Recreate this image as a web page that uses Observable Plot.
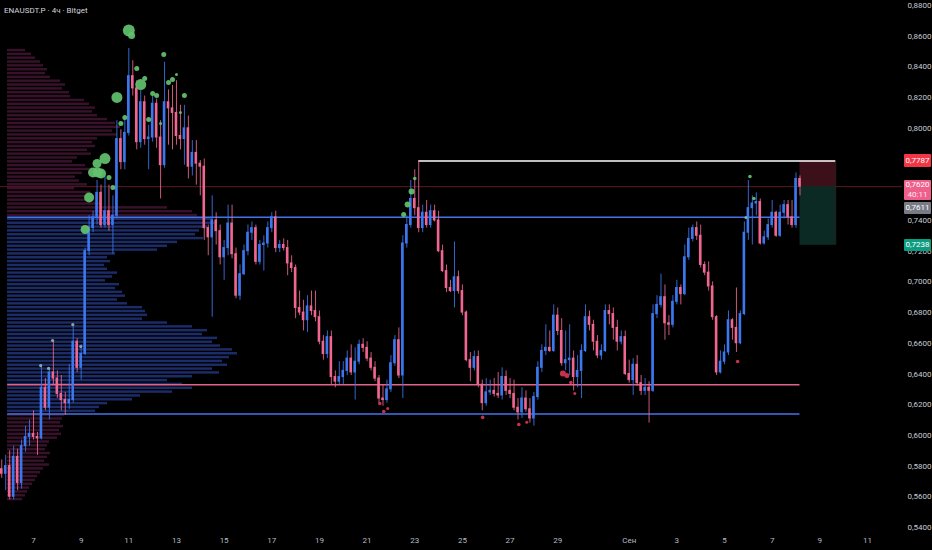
<!DOCTYPE html>
<html><head><meta charset="utf-8">
<script src="https://cdn.jsdelivr.net/npm/d3@7"></script>
<script src="https://cdn.jsdelivr.net/npm/@observablehq/plot@0.6"></script>
<style>
html,body{margin:0;padding:0;background:#000;}
#wrap{position:relative;width:932px;height:550px;overflow:hidden;background:#000;}
#wrap svg{position:absolute;left:0;top:0;}
.title{position:absolute;left:4px;top:6px;font:8px "Liberation Sans Narrow","Roboto",sans-serif;color:#d1d4dc;white-space:nowrap;}
.lbl{position:absolute;left:904px;width:27px;font:8px "Liberation Sans Narrow","Roboto",sans-serif;color:#fff;text-align:center;line-height:12px;border-radius:1px;overflow:hidden;}
</style></head><body><div id="wrap"></div>
<script>
// ---------- DATA ----------
const startTime = Date.UTC(2025, 7, 5, 16); // first 4h candle
const firstOpen = 0.578;
const closes = [
0.575,0.580,0.560,0.586,0.569,0.593,0.599,0.601,0.599,0.598,
0.631,0.618,0.641,0.637,0.627,0.623,0.621,0.623,0.661,0.644,
0.653,0.720,0.735,0.742,0.758,0.737,0.746,0.737,0.743,0.793,
0.778,0.797,0.834,0.826,0.791,0.817,0.793,0.794,0.816,0.794,
0.776,0.817,0.813,0.810,0.795,0.793,0.800,0.775,0.784,0.777,
0.775,0.735,0.729,0.740,0.733,0.716,0.722,0.738,0.718,0.691,
0.705,0.720,0.732,0.735,0.713,0.724,0.725,0.735,0.742,0.722,
0.724,0.722,0.712,0.709,0.683,0.680,0.675,0.684,0.681,0.677,
0.661,0.653,0.664,0.638,0.635,0.638,0.642,0.650,0.641,0.648,
0.659,0.657,0.650,0.644,0.637,0.624,0.623,0.630,0.647,0.662,
0.639,0.725,0.737,0.754,0.748,0.735,0.745,0.737,0.746,0.740,
0.720,0.707,0.696,0.694,0.703,0.694,0.680,0.649,0.644,0.651,
0.633,0.621,0.628,0.629,0.627,0.626,0.638,0.629,0.627,0.618,
0.615,0.624,0.617,0.611,0.625,0.644,0.655,0.657,0.655,0.678,
0.668,0.647,0.649,0.650,0.638,0.642,0.655,0.677,0.672,0.661,
0.652,0.655,0.681,0.679,0.670,0.661,0.664,0.640,0.636,0.646,
0.634,0.629,0.631,0.629,0.679,0.685,0.690,0.673,0.672,0.687,
0.696,0.692,0.716,0.728,0.735,0.730,0.711,0.706,0.697,0.677,
0.641,0.648,0.654,0.675,0.670,0.660,0.679,0.732,0.748,0.751,
0.752,0.725,0.729,0.737,0.745,0.730,0.745,0.750,0.742,0.737,
0.767,0.762];
const highs = [
0.584,0.587,0.590,0.593,0.591,0.597,0.606,0.610,0.616,0.602,
0.646,0.637,0.644,0.662,0.642,0.639,0.628,0.646,0.672,0.663,
0.659,0.722,0.743,0.746,0.766,0.763,0.769,0.763,0.756,0.805,
0.799,0.806,0.852,0.844,0.831,0.825,0.821,0.802,0.821,0.819,
0.805,0.843,0.825,0.828,0.831,0.815,0.815,0.808,0.792,0.792,
0.779,0.780,0.737,0.756,0.745,0.737,0.727,0.750,0.750,0.722,
0.711,0.724,0.737,0.739,0.737,0.727,0.730,0.739,0.745,0.746,
0.727,0.728,0.727,0.717,0.711,0.694,0.688,0.691,0.694,0.694,
0.681,0.665,0.668,0.668,0.642,0.648,0.648,0.655,0.659,0.657,
0.662,0.663,0.661,0.654,0.648,0.639,0.633,0.636,0.652,0.665,
0.670,0.730,0.743,0.766,0.773,0.7787,0.750,0.753,0.750,0.750,
0.746,0.724,0.711,0.701,0.726,0.707,0.698,0.681,0.654,0.655,
0.655,0.636,0.637,0.636,0.637,0.641,0.644,0.642,0.637,0.636,
0.624,0.631,0.629,0.624,0.628,0.648,0.659,0.672,0.668,0.685,
0.683,0.676,0.668,0.672,0.655,0.652,0.659,0.685,0.681,0.675,
0.665,0.659,0.685,0.685,0.683,0.675,0.668,0.668,0.649,0.650,
0.652,0.639,0.637,0.635,0.685,0.691,0.705,0.698,0.678,0.691,
0.701,0.698,0.724,0.735,0.737,0.739,0.737,0.713,0.713,0.700,
0.678,0.655,0.659,0.681,0.676,0.696,0.681,0.739,0.766,0.756,
0.758,0.754,0.733,0.741,0.753,0.746,0.750,0.753,0.753,0.753,
0.771,0.769];
const lows = [
0.572,0.564,0.558,0.558,0.564,0.565,0.589,0.593,0.597,0.587,
0.597,0.616,0.610,0.633,0.624,0.616,0.613,0.617,0.621,0.641,
0.636,0.652,0.717,0.732,0.737,0.735,0.735,0.733,0.718,0.741,
0.773,0.773,0.795,0.821,0.786,0.787,0.789,0.773,0.791,0.787,
0.754,0.774,0.789,0.786,0.789,0.786,0.776,0.767,0.769,0.763,
0.756,0.727,0.717,0.677,0.724,0.711,0.701,0.717,0.715,0.689,
0.688,0.704,0.717,0.727,0.711,0.711,0.707,0.722,0.732,0.719,
0.719,0.720,0.704,0.706,0.676,0.678,0.668,0.667,0.678,0.674,
0.659,0.649,0.650,0.633,0.631,0.633,0.633,0.639,0.639,0.623,
0.646,0.654,0.648,0.642,0.635,0.621,0.619,0.621,0.628,0.645,
0.637,0.624,0.722,0.735,0.743,0.732,0.732,0.735,0.735,0.739,
0.719,0.706,0.693,0.693,0.683,0.692,0.678,0.648,0.635,0.642,
0.631,0.616,0.619,0.626,0.625,0.624,0.623,0.626,0.624,0.616,
0.610,0.611,0.615,0.608,0.606,0.623,0.641,0.652,0.654,0.654,
0.665,0.645,0.642,0.639,0.629,0.631,0.624,0.654,0.668,0.655,
0.650,0.649,0.654,0.672,0.662,0.655,0.659,0.639,0.634,0.626,
0.632,0.626,0.626,0.608,0.628,0.676,0.683,0.662,0.665,0.670,
0.685,0.685,0.691,0.714,0.726,0.727,0.709,0.704,0.694,0.675,
0.639,0.640,0.646,0.652,0.662,0.654,0.659,0.678,0.727,0.724,
0.743,0.724,0.724,0.727,0.735,0.729,0.729,0.741,0.737,0.735,
0.735,0.756];

// volume profile (visible range), bins from top price downward
const profileTop = 0.852, profileStep = 0.0025;
const profileVol = [
18,24,28,33,36,40,38,43,53,58,
55,62,63,77,82,88,85,90,100,108,
113,105,110,90,85,88,80,84,70,65,
78,83,75,68,72,80,67,83,78,85,
95,160,185,190,205,207,200,192,188,196,
170,160,150,108,100,103,97,100,110,105,
98,112,108,115,118,110,120,135,138,140,
135,160,185,200,195,210,205,213,225,230,
222,215,220,205,212,185,160,175,185,165,
133,125,100,92,88,57,55,53,56,52,
54,50,42,40,38,43,40,37,42,36,
33,30,28,25,22,20,18,15];
const valueAreaHigh = 0.742, valueAreaLow = 0.614;
const redLevel = 0.633;
const resistance = 0.7787;     // white line
const lastPrice = 0.7620, prevPrice = 0.7611, targetPrice = 0.7238;
const countdown = "40:11";
const levelStart = "2025-08-05T22:00Z";
const positionEnd = "2025-09-09T16:00Z";
const resistanceStartIdx = 105;

// bubbles (candle index, price, radius)
const greenIdx   = [32,32.7,34,36,35,29,38,39,42,43,44,46,31,30,37,40,45,40.8,26,24,23,25,24.2,27,28,22,21,104,103.2,102.2,101.2,188.4,189.4];
const greenPrice = [0.8637,0.8604,0.8390,0.8325,0.8285,0.8201,0.8227,0.8214,0.8298,0.8318,0.8351,0.8214,0.8071,0.8031,0.8057,0.8031,0.8103,0.8481,0.7803,0.7771,0.7712,0.7706,0.7712,0.7680,0.7615,0.7549,0.7341,0.7673,0.7589,0.7504,0.7439,0.7686,0.7543];
const greenR     = [6,3.5,2.5,2.5,5.5,5.5,2.5,2.5,2.5,2.5,1.5,2.5,2.5,2.5,2.5,1.5,1.5,2.5,5.5,4.5,5,5,5,2.5,2.5,5,4.5,1.8,3,3,2.5,1.8,1.8];
const grayIdx   = [17.9,12.8,9.8,11.8,19.9,187.4];
const grayPrice = [0.6722,0.6618,0.6455,0.6436,0.6579,0.7419];
const redIdx   = [95.2,96.2,97.2,121.1,130.2,132.2,141.3,142.3,143.3,144.3,185.3];
const redPrice = [0.6208,0.6156,0.6175,0.6117,0.6071,0.6085,0.6403,0.6390,0.6344,0.6273,0.6481];
const redR     = [1.8,1.8,1.5,1.8,1.8,1.5,3,2.5,1.8,1.5,1.8];

const xTickDays = ["2025-08-07","2025-08-09","2025-08-11","2025-08-13","2025-08-15","2025-08-17","2025-08-19","2025-08-21","2025-08-23","2025-08-25","2025-08-27","2025-08-29","2025-09-01","2025-09-03","2025-09-05","2025-09-07","2025-09-09","2025-09-11"];
const monthLabel = "Сен";
// 0.76 and 0.78 are hidden behind the price badges in the reference
const yTicks = [0.54,0.56,0.58,0.60,0.62,0.64,0.66,0.68,0.70,0.72,0.74,0.80,0.82,0.84,0.86,0.88];
const title = "ENAUSDT.P · 4ч · Bitget";

// ---------- BUILD ----------
const H4 = 4 * 3600e3;
const tAt = i => new Date(startTime + i * H4);
const candles = closes.map((c, i) => {
  const o = i ? closes[i - 1] : firstOpen;
  return {t: tAt(i), o, c, h: Math.max(highs[i], o, c), l: Math.min(lows[i], o, c)};
});
const up = "#3b78f0", down = "#ef6690";
const col = d => d.c >= d.o ? up : down;
const halfBody = 1.3 * 3600e3;

const profile = profileVol.map((v, k) => {
  const hi = profileTop - k * profileStep, lo = hi - profileStep, mid = (hi + lo) / 2;
  return {v, hi, lo, inVA: mid <= valueAreaHigh && mid >= valueAreaLow};
});
const green = greenIdx.map((i, k) => ({t: tAt(i), p: greenPrice[k], r: greenR[k]}));
const gray = grayIdx.map((i, k) => ({t: tAt(i), p: grayPrice[k]}));
const reds = redIdx.map((i, k) => ({t: tAt(i), p: redPrice[k], r: redR[k]}));

const font = '"Liberation Sans Narrow","Roboto",sans-serif';
const W = 932, HH = 550;
const yScale = {domain: [0.54, 0.88], range: [527, 5]};
const lastT = candles[candles.length - 1].t;
const posEnd = new Date(positionEnd);

const profilePlot = Plot.plot({
  width: W, height: HH, margin: 0,
  style: {background: "transparent"},
  x: {domain: [0, 233], range: [7, 240], axis: null},
  y: {...yScale, axis: null},
  marks: [
    Plot.rectX(profile, {y1: "lo", y2: "hi", x: "v", fill: d => d.inVA ? "#1b2c68" : "#38122a", insetTop: 0.8, insetBottom: 0.6})
  ]
});

const chart = Plot.plot({
  width: W, height: HH, marginLeft: 0, marginRight: 30, marginTop: 0, marginBottom: 20,
  style: {background: "transparent", fontFamily: font, fontSize: "8px", color: "#c8cbd3"},
  x: {type: "utc", domain: [new Date("2025-08-07T00:00Z"), new Date("2025-09-11T00:00Z")], range: [33, 867], label: null},
  y: {...yScale, label: null},
  r: {type: "identity"},
  marks: [
    Plot.ruleY([lastPrice], {stroke: "#5c1a26", strokeWidth: 1}),
    Plot.rect([0], {x1: lastT, x2: posEnd, y1: lastPrice, y2: resistance, fill: "#3c1018"}),
    Plot.rect([0], {x1: lastT, x2: posEnd, y1: targetPrice, y2: lastPrice, fill: "#0b2a24"}),
    Plot.ruleX([posEnd], {y1: targetPrice, y2: resistance, stroke: "#3a2a2a", strokeWidth: 0.8}),
    Plot.ruleY([valueAreaHigh, valueAreaLow], {x1: new Date(levelStart), x2: lastT, stroke: "#4274ea", strokeWidth: 1.5}),
    Plot.ruleY([redLevel], {x1: new Date(levelStart), x2: lastT, stroke: "#e2628c", strokeWidth: 1.5}),
    Plot.ruleY([resistance], {x1: tAt(resistanceStartIdx), x2: posEnd, stroke: "#ffffff", strokeWidth: 1.5}),
    Plot.ruleX(candles, {x: "t", y1: "l", y2: "h", stroke: col, strokeWidth: 1, strokeOpacity: 0.85}),
    Plot.rect(candles, {x1: d => new Date(+d.t - halfBody), x2: d => new Date(+d.t + halfBody), y1: "o", y2: "c", fill: col, insetTop: -0.5, insetBottom: -0.5}),
    Plot.dot(green, {x: "t", y: "p", r: "r", fill: "#63c26e", fillOpacity: 0.92}),
    Plot.dot(gray, {x: "t", y: "p", r: 1.6, fill: "#86a8a0"}),
    Plot.dot(reds, {x: "t", y: "p", r: "r", fill: "#c9304c"}),
    Plot.axisY({anchor: "right", label: null, ticks: yTicks, tickSize: 0, tickPadding: 5, tickFormat: d => d.toFixed(4).replace(".", ","), fill: "#c8cbd3", fontSize: 8}),
    Plot.axisX({label: null, ticks: xTickDays.map(s => new Date(s + "T00:00Z")), tickSize: 0, tickPadding: 7, fill: "#b8bbc4", fontSize: 8,
      tickFormat: d => d.getUTCDate() === 1 ? monthLabel : String(d.getUTCDate())})
  ]
});

const wrap = document.getElementById("wrap");
wrap.appendChild(profilePlot);
wrap.appendChild(chart);

const t = document.createElement("div");
t.className = "title"; t.textContent = title; wrap.appendChild(t);

const ys = chart.scale("y");
const fmt = v => v.toFixed(4).replace(".", ",");
function label(html, bg, top, h, lh) {
  const d = document.createElement("div");
  d.className = "lbl"; d.style.background = bg; d.style.top = top + "px";
  d.style.height = h + "px"; d.style.lineHeight = lh + "px"; d.innerHTML = html; wrap.appendChild(d);
}
label(fmt(resistance), "#f23645", ys.apply(resistance) - 6.5, 13, 13);
const pTop = ys.apply(lastPrice) - 6;
label(fmt(lastPrice) + "<br><span style='opacity:.85'>" + countdown + "</span>", "#ef5f8c", pTop, 20, 9.5);
label(fmt(prevPrice), "#787b86", pTop + 21.5, 12, 12);
label(fmt(targetPrice), "#0c9c80", ys.apply(targetPrice) - 6, 12.5, 12.5);
</script>
</body></html>
